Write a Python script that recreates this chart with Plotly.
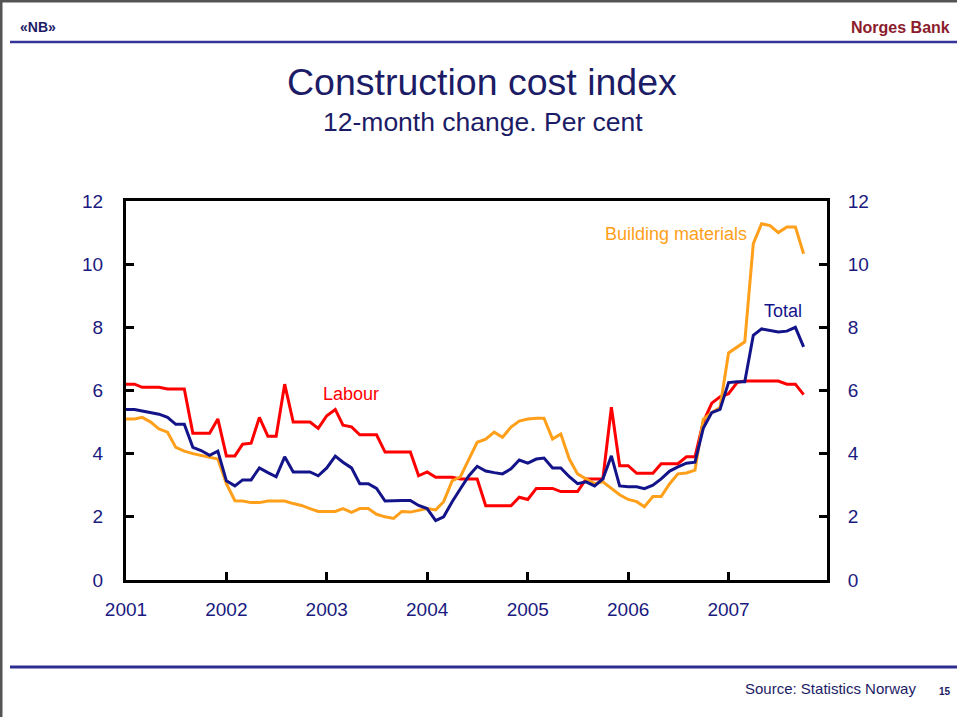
import pandas as pd
import plotly.graph_objects as go

# ---------------- data (12-month change, per cent, monthly Jan 2001 - Oct 2007) ----------------
start_month = "2001-01-01"
n_months = 82
months = pd.date_range(start_month, periods=n_months, freq="MS")

labour = [
    6.2, 6.2, 6.1, 6.1, 6.1, 6.05, 6.05, 6.05, 4.65, 4.65, 4.65, 5.1,
    3.93, 3.93, 4.3, 4.33, 5.15, 4.55, 4.55, 6.2, 5.0, 5.0, 5.0, 4.8,
    5.2, 5.4, 4.9, 4.85, 4.6, 4.6, 4.6, 4.05, 4.05, 4.05, 4.05, 3.3,
    3.42, 3.25, 3.25, 3.25, 3.2, 3.2, 3.2, 2.35, 2.35, 2.35, 2.35, 2.62,
    2.55, 2.9, 2.9, 2.9, 2.8, 2.8, 2.8, 3.2, 3.2, 3.2, 5.47, 3.62,
    3.62, 3.38, 3.38, 3.38, 3.68, 3.68, 3.68, 3.9, 3.9, 5.0, 5.6, 5.8,
    5.9, 6.25, 6.3, 6.3, 6.3, 6.3, 6.3, 6.2, 6.2, 5.87,
]

total = [
    5.4, 5.4, 5.35, 5.3, 5.25, 5.15, 4.93, 4.93, 4.2, 4.1, 3.95, 4.08,
    3.14, 2.98, 3.17, 3.17, 3.55, 3.4, 3.27, 3.9, 3.42, 3.42, 3.42, 3.3,
    3.55, 3.92, 3.73, 3.55, 3.05, 3.05, 2.9, 2.5, 2.52, 2.52, 2.52, 2.36,
    2.26, 1.88, 2.0, 2.48, 2.89, 3.3, 3.6, 3.45, 3.4, 3.36, 3.52, 3.8,
    3.7, 3.83, 3.86, 3.55, 3.55, 3.27, 3.05, 3.11, 2.98, 3.2, 3.93, 2.98,
    2.95, 2.95, 2.89, 3.0, 3.2, 3.45, 3.58, 3.7, 3.73, 4.8, 5.3, 5.4,
    6.25, 6.28, 6.28, 7.75, 7.95, 7.9, 7.85, 7.88, 8.0, 7.38,
]

building_materials = [
    5.1, 5.1, 5.15, 5.0, 4.78, 4.68, 4.2, 4.08, 4.0, 3.95, 3.9, 3.83,
    3.05, 2.51, 2.5, 2.45, 2.45, 2.5, 2.5, 2.5, 2.42, 2.36, 2.26, 2.17,
    2.17, 2.17, 2.26, 2.14, 2.26, 2.26, 2.08, 2.0, 1.95, 2.17, 2.15, 2.2,
    2.26, 2.22, 2.48, 3.14, 3.27, 3.83, 4.36, 4.46, 4.68, 4.52, 4.84, 5.03,
    5.1, 5.12, 5.12, 4.46, 4.62, 3.83, 3.36, 3.2, 3.05, 3.11, 2.89, 2.7,
    2.55, 2.48, 2.32, 2.64, 2.64, 3.05, 3.36, 3.39, 3.48, 5.09, 5.3, 5.46,
    7.19, 7.38, 7.54, 10.65, 11.28, 11.22, 11.0, 11.18, 11.18, 10.33,
]

y_ticks = [0, 2, 4, 6, 8, 10, 12]
x_range = ["2001-01-01", "2007-12-25"]

# ---------------- styling ----------------
FONT = "Liberation Sans, Arial, sans-serif"
NAVY = "#1a1a80"
TITLE_NAVY = "#1c1c66"
RED = "#ff0000"
ORANGE = "#ff9f1a"
LINE_NAVY = "#14148a"

W, H = 957, 717
L, R, T, B = 126, 827, 201, 580


def px(x):
    return (x - L) / (R - L)


def py(y):
    return (B - y) / (B - T)


fig = go.Figure()
fig.add_trace(go.Scatter(x=months, y=labour, mode="lines", name="Labour",
                         line=dict(color=RED, width=3)))
fig.add_trace(go.Scatter(x=months, y=building_materials, mode="lines", name="Building materials",
                         line=dict(color=ORANGE, width=3)))
fig.add_trace(go.Scatter(x=months, y=total, mode="lines", name="Total",
                         line=dict(color=LINE_NAVY, width=3)))
# invisible companion trace so the right-hand axis is drawn
fig.add_trace(go.Scatter(x=months, y=total, mode="lines", yaxis="y2", showlegend=False,
                         hoverinfo="skip", line=dict(color="rgba(0,0,0,0)", width=0)))

axis_common = dict(
    showgrid=False, zeroline=False, showline=True, linecolor="black", linewidth=3,
    ticks="inside", ticklen=8, tickwidth=2.5, tickcolor="black",
    tickfont=dict(family=FONT, size=19, color=NAVY),
)

fig.update_layout(
    width=W, height=H,
    margin=dict(l=L, r=W - R, t=T, b=H - B, pad=0),
    paper_bgcolor="white", plot_bgcolor="white",
    showlegend=False,
    font=dict(family=FONT),
    xaxis=dict(type="date", range=x_range, dtick="M12", tick0="2001-01-01",
               tickformat="%Y", mirror=True, ticklabelstandoff=10, **axis_common),
    yaxis=dict(range=[0, 12], tickvals=y_ticks, ticklabelstandoff=16, **axis_common),
    yaxis2=dict(range=[0, 12], tickvals=y_ticks, overlaying="y", side="right",
                ticklabelstandoff=14, **axis_common),
)

annotations = [
    dict(text="Construction cost index", x=px(482), y=py(82),
         font=dict(size=37.5, color=TITLE_NAVY)),
    dict(text="12-month change. Per cent", x=px(483), y=py(122),
         font=dict(size=26.5, color=TITLE_NAVY)),
    dict(text="<b>Norges Bank</b>", x=px(952), y=py(27), xanchor="right",
         font=dict(size=16, color="#8c1c2c")),
    dict(text="<b>«NB»</b>", x=px(18), y=py(27), xanchor="left",
         font=dict(size=14, color=TITLE_NAVY)),
    dict(text="Labour", x=px(351), y=py(394), font=dict(size=18, color=RED)),
    dict(text="Building materials", x=px(676), y=py(234), font=dict(size=18, color=ORANGE)),
    dict(text="Total", x=px(783), y=py(311), font=dict(size=18, color=LINE_NAVY)),
    dict(text="Source: Statistics Norway", x=px(918), y=py(688), xanchor="right",
         font=dict(size=15, color=TITLE_NAVY)),
    dict(text="<b>15</b>", x=px(945), y=py(691), font=dict(size=10, color=TITLE_NAVY)),
]
for a in annotations:
    a.setdefault("xanchor", "center")
    a.update(xref="paper", yref="paper", yanchor="middle", showarrow=False)
    a["font"].setdefault("family", FONT)
fig.update_layout(annotations=annotations)

shapes = [
    # slide frame (left and top)
    dict(type="line", x0=px(1), x1=px(1), y0=py(0), y1=py(H), line=dict(color="#555555", width=3)),
    dict(type="line", x0=px(0), x1=px(W), y0=py(1), y1=py(1), line=dict(color="#555555", width=3)),
    # header and footer rules
    dict(type="line", x0=px(10), x1=px(W), y0=py(42), y1=py(42), line=dict(color="#34349a", width=2.5)),
    dict(type="line", x0=px(10), x1=px(W), y0=py(667), y1=py(667), line=dict(color="#2e2e90", width=3)),
]
for s in shapes:
    s.update(xref="paper", yref="paper", layer="above")
fig.update_layout(shapes=shapes)

# remove the default page margin so the 957x717 figure fills the window exactly
fig.write_html("out.html",
               config={"displayModeBar": False},
               post_script="document.body.style.margin='0';document.body.style.overflow='hidden';")
